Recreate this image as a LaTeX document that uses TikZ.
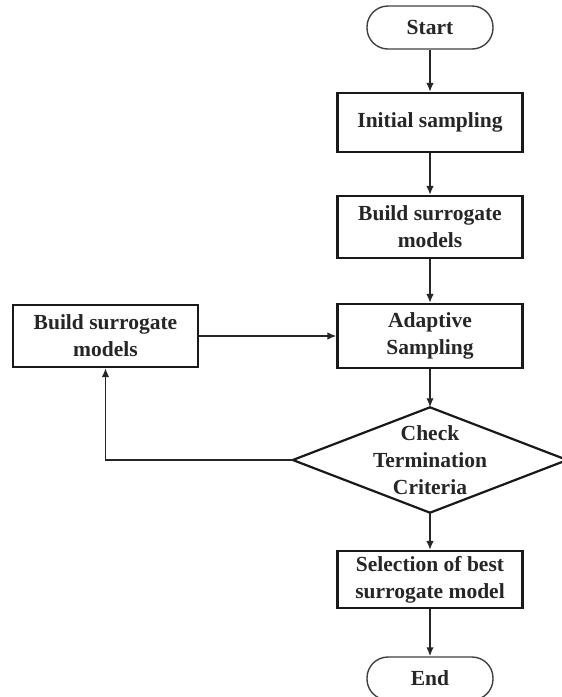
\documentclass[tikz,border=0pt]{standalone}
\usepackage{fontspec}
\setmainfont{Liberation Serif}
\usetikzlibrary{arrows.meta}
\begin{document}
\begin{tikzpicture}[x=1pt,y=-1pt,
  every node/.style={font=\bfseries\fontsize{21.5}{27}\selectfont, text=black!85, align=center, inner sep=0pt},
  procbox/.style={draw=black!90, line width=2.2pt, minimum width=185pt},
  termbox/.style={draw=black!75, line width=1.4pt, rounded corners=21pt, minimum width=126pt, minimum height=43pt},
  flow/.style={draw=black!85, line width=1.6pt, -{Latex[length=9pt,width=7.5pt]}}]
\useasboundingbox (0,0) rectangle (562,697);

% main column
\node[termbox] (start) at (430,27.5) {Start};
\node[procbox, minimum height=59pt] (init) at (430,122.5) {Initial sampling};
\node[procbox, minimum height=62pt] (build) at (430,227) {Build surrogate\\models};
\node[procbox, minimum height=64pt] (adapt) at (430,336) {Adaptive\\Sampling};
\node[minimum width=274pt, minimum height=105pt] (check) at (430,460) {Check\\Termination\\Criteria};
\draw[black!90, line width=2.2pt, line join=miter]
  (check.north) -- (check.east) -- (check.south) -- (check.west) -- cycle;
\node[procbox, minimum height=57pt] (select) at (430,579.5) {Selection of best\\surrogate model};
\node[termbox] (end) at (430,678.5) {End};

% side box of the refinement loop
\node[procbox, minimum height=62pt] (rebuild) at (105.5,336) {Build surrogate\\models};
\coordinate (corner) at (rebuild.south |- check.west);

% connectors
\draw[flow] (start) -- (init);
\draw[flow] (init) -- (build);
\draw[flow] (build) -- (adapt);
\draw[flow] (adapt) -- (check.north);
\draw[flow] (check.south) -- (select);
\draw[flow] (select) -- (end);
\draw[flow] (rebuild) -- (adapt);
\draw[flow] (check.west) -- (corner) -- (rebuild.south);
\end{tikzpicture}
\end{document}
